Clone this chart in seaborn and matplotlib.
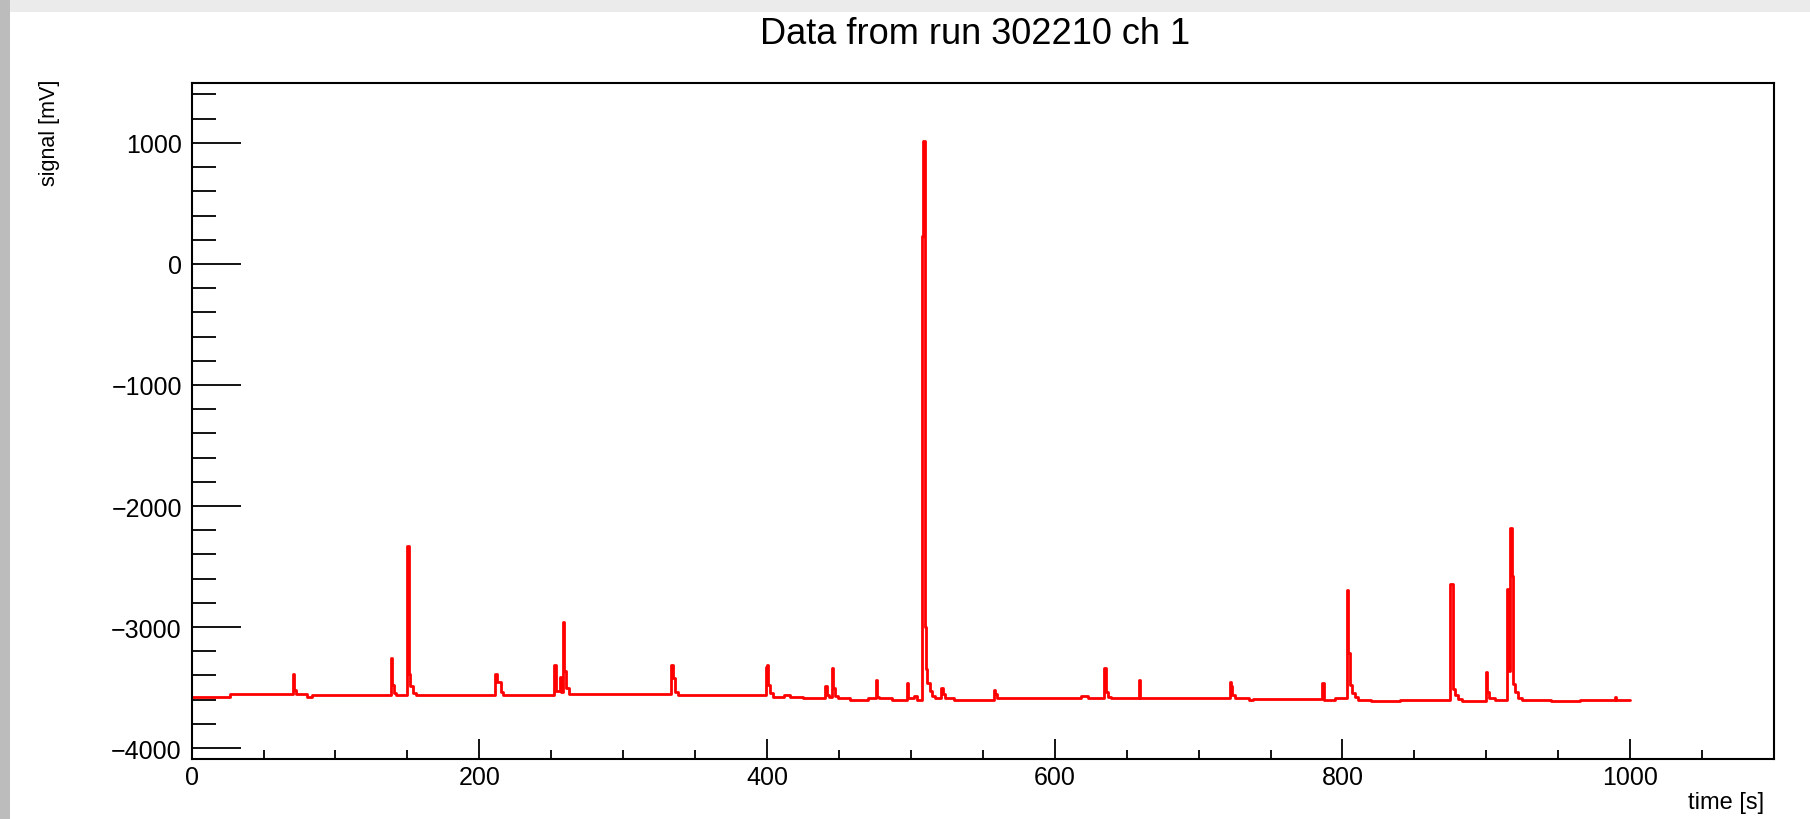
import numpy as np
import pandas as pd
import matplotlib
matplotlib.use("Agg")
import matplotlib.pyplot as plt
from matplotlib.patches import Rectangle
from matplotlib.ticker import MultipleLocator
import seaborn as sns

# ── Data (time in s, signal in mV, step histogram) ──
time_s = [
    0, 27, 70.5, 71.5, 72.5, 80, 84,
    138.5, 139.5, 140.5, 142,
    150, 151, 152, 154, 156,
    211, 212, 215, 216.5,
    252, 253, 256, 257, 258.3, 259.2, 260.5, 262.5, 265,
    333.5, 334.5, 336, 338,
    399, 399.8, 400.6, 402, 404, 412, 416, 425,
    440.5, 441.5, 443, 445, 446, 447.5, 449, 458, 470,
    475.5, 476.5, 478, 487,
    497.3, 498.2, 502, 504,
    507.6, 508.6, 509.6, 510.5, 511.5, 513, 515, 517,
    521, 522.5, 524, 530,
    557.5, 558.5, 560, 618, 623,
    634.5, 635.5, 637, 639,
    658.7, 659.5,
    721.5, 722.5, 723.5, 725, 735, 738,
    786, 787, 795,
    803.2, 804.2, 805.2, 806.5, 808.5, 811, 820, 840, 845,
    875, 877.2, 878.2, 880, 883,
    899.7, 900.7, 902, 906,
    914.5, 915.5, 916.5, 917.8, 918.8, 920, 922, 925, 945, 965,
    989.5, 990.5, 1000,
]
signal_mv = [
    -3575, -3555, -3385, -3520, -3550, -3580, -3558,
    -3256, -3480, -3545, -3565,
    -2331, -3390, -3490, -3545, -3560,
    -3385, -3450, -3540, -3558,
    -3311, -3530, -3413, -3540, -2958, -3360, -3500, -3550, -3555,
    -3311, -3420, -3540, -3565,
    -3330, -3316, -3480, -3545, -3575, -3565, -3580, -3590,
    -3488, -3560, -3575, -3338, -3500, -3570, -3585, -3600, -3590,
    -3435, -3575, -3590, -3605,
    -3460, -3590, -3570, -3600,
    230, 1015, -2998, -3350, -3460, -3530, -3570, -3590,
    -3500, -3550, -3590, -3600,
    -3523, -3555, -3585, -3568, -3585,
    -3338, -3540, -3575, -3588,
    -3435, -3585,
    -3450, -3490, -3560, -3590, -3605, -3592,
    -3460, -3600, -3590,
    -2695, -3214, -3480, -3545, -3580, -3605, -3612, -3600, -3605,
    -2646, -3509, -3560, -3595, -3612,
    -3374, -3540, -3590, -3600,
    -2685, -3360, -2185, -2580, -3470, -3540, -3590, -3605, -3612, -3605,
    -3580, -3600, -3600,
]

df = pd.DataFrame({"time": time_s, "signal": signal_mv})

sns.set_theme(style="ticks")
plt.rcParams["font.family"] = ["Liberation Sans", "DejaVu Sans"]
plt.rcParams["axes.unicode_minus"] = True
plt.rcParams["text.color"] = "black"
plt.rcParams["xtick.color"] = "black"
plt.rcParams["ytick.color"] = "black"

fig = plt.figure(figsize=(18.1, 8.2), dpi=100, facecolor="white")

# ── canvas shadow (screenshot frame) ───────────────────────────
fig.patches.append(Rectangle((0, 1 - 13 / 820), 1, 13 / 820, transform=fig.transFigure,
                             facecolor="#ebebeb", edgecolor="none", zorder=0))
fig.patches.append(Rectangle((0, 0), 10 / 1810, 1, transform=fig.transFigure,
                             facecolor="#bcbcbc", edgecolor="none", zorder=0))

ax = fig.add_axes([191.6 / 1810, 60 / 820, (1774 - 191.6) / 1810, (760 - 84) / 820])

sns.lineplot(data=df, x="time", y="signal", ax=ax, color="#ff0000",
             linewidth=2.0, drawstyle="steps-post", estimator=None, sort=False)

ax.set_xlim(0, 1100)
ax.set_ylim(-4090, 1495)
ax.xaxis.set_major_locator(MultipleLocator(200))
ax.xaxis.set_minor_locator(MultipleLocator(50))
ax.yaxis.set_major_locator(MultipleLocator(1000))
ax.yaxis.set_minor_locator(MultipleLocator(200))

ax.tick_params(axis="both", which="both", direction="in", colors="black",
               left=True, bottom=True, top=False, right=False,
               labelsize=18, width=1.3)
ax.tick_params(axis="y", which="major", length=35, pad=7)
ax.tick_params(axis="y", which="minor", length=17)
ax.tick_params(axis="x", which="major", length=14.4, pad=4.5)
ax.tick_params(axis="x", which="minor", length=6.5)

for sp in ax.spines.values():
    sp.set_visible(True)
    sp.set_color("black")
    sp.set_linewidth(1.5)

ax.set_xlabel("")
ax.set_ylabel("")

# ── titles (ROOT-style placement) ──────────────────────────────
fig.text(975 / 1810, 1 - 35 / 820, "Data from run 302210 ch 1",
         ha="center", va="center", fontsize=26, color="black")
fig.text(1764 / 1810, 1 - 803 / 820, "time [s]", ha="right", va="center",
         fontsize=17, color="black")
fig.text(49 / 1810, 1 - 80 / 820, "signal [mV]", rotation=90,
         ha="center", va="top", fontsize=15.5, color="black")

plt.savefig("out.png", dpi=100, facecolor=fig.get_facecolor())
